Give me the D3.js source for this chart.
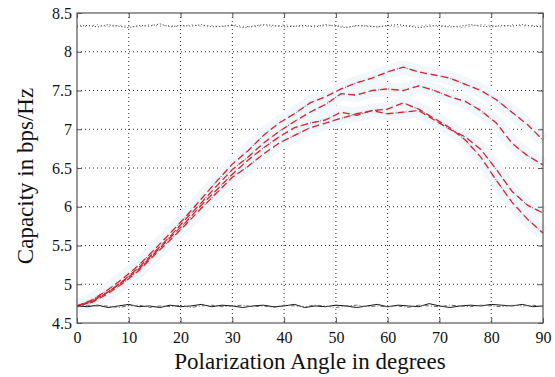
<!DOCTYPE html>
<html>
<head>
<meta charset="utf-8">
<script src="https://cdn.jsdelivr.net/npm/d3@7"></script>
<style>
  body { margin: 0; background: #fff; font-family: 'Liberation Serif', 'Times New Roman', Tinos, serif; }
  svg text { font-family: 'Liberation Serif', 'Times New Roman', Tinos, serif !important; }
</style>
</head>
<body>
<div id="chart"></div>
<script>
// angles for the flat reference lines (every 2 degrees)
const flatAngles = [0,2,4,6,8,10,12,14,16,18,20,22,24,26,28,30,32,34,36,38,40,42,44,46,48,50,52,54,56,58,60,62,64,66,68,70,72,74,76,78,80,82,84,86,88,90];
const topA = [8.33,8.34,8.32,8.35,8.33,8.31,8.34,8.33,8.36,8.32,8.34,8.33,8.35,8.32,8.33,8.34,8.31,8.33,8.35,8.34,8.32,8.33,8.34,8.32,8.35,8.33,8.31,8.34,8.33,8.32,8.34,8.35,8.33,8.31,8.33,8.34,8.32,8.33,8.35,8.33,8.32,8.34,8.33,8.35,8.33,8.32];
const topB = [8.32,8.33,8.35,8.32,8.34,8.33,8.32,8.35,8.33,8.34,8.32,8.35,8.33,8.34,8.32,8.35,8.33,8.32,8.34,8.32,8.35,8.33,8.32,8.34,8.33,8.35,8.32,8.33,8.34,8.32,8.33,8.32,8.34,8.33,8.35,8.32,8.34,8.31,8.33,8.35,8.34,8.32,8.35,8.33,8.34,8.33];
const bottomA = [4.72,4.71,4.73,4.70,4.72,4.74,4.71,4.72,4.70,4.73,4.71,4.72,4.74,4.71,4.73,4.72,4.70,4.72,4.73,4.71,4.72,4.74,4.70,4.72,4.71,4.73,4.72,4.70,4.72,4.74,4.71,4.73,4.72,4.71,4.75,4.72,4.70,4.72,4.73,4.72,4.74,4.73,4.72,4.74,4.71,4.72];
const bottomB = [4.71,4.73,4.72,4.72,4.70,4.72,4.73,4.70,4.72,4.71,4.73,4.70,4.72,4.73,4.71,4.72,4.73,4.71,4.72,4.70,4.73,4.72,4.71,4.73,4.72,4.70,4.72,4.73,4.71,4.72,4.71,4.72,4.70,4.73,4.72,4.71,4.73,4.72,4.71,4.73,4.72,4.71,4.73,4.72,4.73,4.71];

// angles for the red curves (every 3 degrees)
const curveAngles = [0,3,6,9,12,15,18,21,24,27,30,33,36,39,42,45,48,51,54,57,60,63,66,69,72,75,78,81,84,87,90];
const curve1 = [4.72,4.80,4.93,5.08,5.25,5.45,5.66,5.87,6.10,6.33,6.55,6.72,6.92,7.08,7.20,7.34,7.42,7.52,7.60,7.66,7.74,7.80,7.74,7.70,7.66,7.58,7.50,7.38,7.22,7.06,6.86];
const curve2 = [4.72,4.79,4.90,5.05,5.22,5.42,5.62,5.84,6.05,6.27,6.48,6.64,6.82,6.97,7.10,7.22,7.32,7.46,7.44,7.50,7.52,7.50,7.56,7.50,7.42,7.36,7.24,7.08,6.82,6.66,6.54];
const curve3 = [4.72,4.78,4.90,5.04,5.20,5.40,5.60,5.80,6.02,6.22,6.42,6.60,6.76,6.90,7.02,7.08,7.12,7.22,7.18,7.24,7.26,7.34,7.26,7.14,7.02,6.86,6.64,6.34,6.06,5.84,5.66];
const curve4 = [4.72,4.77,4.88,5.02,5.18,5.38,5.57,5.77,5.98,6.18,6.38,6.52,6.68,6.82,6.92,7.02,7.08,7.14,7.20,7.24,7.20,7.22,7.24,7.12,7.00,6.90,6.74,6.48,6.20,6.02,5.92];

const xTicks = [0,10,20,30,40,50,60,70,80,90];
const yTicks = [4.5,5,5.5,6,6.5,7,7.5,8,8.5];

const width = 555, height = 377;
const margin = {top: 13, right: 12, bottom: 54, left: 77};
const w = width - margin.left - margin.right;
const h = height - margin.top - margin.bottom;

const svg = d3.select('#chart').append('svg')
    .attr('width', width)
    .attr('height', height);

const g = svg.append('g')
    .attr('transform', 'translate(' + margin.left + ',' + margin.top + ')');

let xScale = d3.scaleLinear().domain([0, 90]).range([0, w]);
let yScale = d3.scaleLinear().domain([4.5, 8.5]).range([h, 0]);

// dotted grid
g.append('g').selectAll('line').data(xTicks.slice(1, -1)).join('line')
    .attr('x1', d => xScale(d)).attr('x2', d => xScale(d))
    .attr('y1', 0).attr('y2', h)
    .attr('stroke', '#222').attr('stroke-width', 1).attr('stroke-dasharray', '1,3');
g.append('g').selectAll('line').data(yTicks.slice(1, -1)).join('line')
    .attr('y1', d => yScale(d)).attr('y2', d => yScale(d))
    .attr('x1', 0).attr('x2', w)
    .attr('stroke', '#222').attr('stroke-width', 1).attr('stroke-dasharray', '1,3');

let line = d3.line().x(d => xScale(d[0])).y(d => yScale(d[1]));
const curves = [curve1, curve2, curve3, curve4].map(c => curveAngles.map((a, i) => [a, c[i]]));

// faint blue halo around the red curves
curves.forEach(c => {
    g.append('path').datum(c).attr('d', line)
        .attr('fill', 'none').attr('stroke', '#f1f7fb').attr('stroke-width', 14)
        .attr('stroke-linejoin', 'round');
});
curves.forEach(c => {
    g.append('path').datum(c).attr('d', line)
        .attr('fill', 'none').attr('stroke', '#e3eff6').attr('stroke-width', 5)
        .attr('stroke-linejoin', 'round').attr('stroke-dasharray', '3,2').attr('opacity', 0.7);
});
// dark thin line under the red dashes
curves.forEach(c => {
    g.append('path').datum(c).attr('d', line)
        .attr('fill', 'none').attr('stroke', '#1a2430').attr('stroke-width', 0.8)
        .attr('stroke-dasharray', '1,4');
});
curves.forEach((c, k) => {
    g.append('path').datum(c).attr('d', line)
        .attr('fill', 'none').attr('stroke', '#d8242c').attr('stroke-width', 1.3)
        .attr('stroke-dasharray', '7,4').attr('stroke-dashoffset', k * 3);
});

// flat reference lines
const flat = (arr) => flatAngles.map((a, i) => [a, arr[i]]);
g.append('path').datum(flat(topA)).attr('d', line)
    .attr('fill', 'none').attr('stroke', '#111').attr('stroke-width', 0.9).attr('stroke-dasharray', '1,2');
g.append('path').datum(flat(topB)).attr('d', line)
    .attr('fill', 'none').attr('stroke', '#555').attr('stroke-width', 0.8).attr('stroke-dasharray', '1,3');
g.append('path').datum(flat(bottomA)).attr('d', line)
    .attr('fill', 'none').attr('stroke', '#111').attr('stroke-width', 1);
g.append('path').datum(flat(bottomB)).attr('d', line)
    .attr('fill', 'none').attr('stroke', '#666').attr('stroke-width', 1).attr('stroke-dasharray', '4,2,1,2');

// box and inward ticks
g.append('rect').attr('width', w).attr('height', h)
    .attr('fill', 'none').attr('stroke', '#555').attr('stroke-width', 1.2);

let xAxis = d3.axisBottom(xScale).tickValues(xTicks).tickSize(-5).tickPadding(9).tickFormat(d3.format('d'));
let yAxis = d3.axisLeft(yScale).tickValues(yTicks).tickSize(-5).tickPadding(5).tickFormat(d => d);
let xAxisTop = d3.axisTop(xScale).tickValues(xTicks).tickSize(-5).tickFormat('');
let yAxisRight = d3.axisRight(yScale).tickValues(yTicks).tickSize(-5).tickFormat('');

g.append('g').attr('class', 'xAxis').attr('transform', 'translate(0,' + h + ')').call(xAxis);
g.append('g').attr('class', 'yAxis').call(yAxis);
g.append('g').attr('class', 'xAxis').call(xAxisTop);
g.append('g').attr('class', 'yAxis').attr('transform', 'translate(' + w + ',0)').call(yAxisRight);

g.selectAll('.domain').remove();
g.selectAll('.xAxis, .yAxis').attr('font-family', null).attr('font-size', null);
g.selectAll('.tick line').attr('stroke', '#555');
g.selectAll('.tick text')
    .attr('fill', '#111')
    .style('font-size', '16px');

// axis titles
svg.selectAll('.title').data(['Polarization Angle in degrees', 'Capacity in bps/Hz']).join('text')
    .attr('class', 'title')
    .attr('transform', (d, i) => i == 0
        ? 'translate(' + (margin.left + w / 2) + ',369)'
        : 'translate(33,' + (margin.top + h / 2 + 8) + ') rotate(-90)')
    .attr('text-anchor', 'middle')
    .style('font-size', '23px')
    .attr('fill', '#111')
    .text(d => d);
</script>
</body>
</html>
